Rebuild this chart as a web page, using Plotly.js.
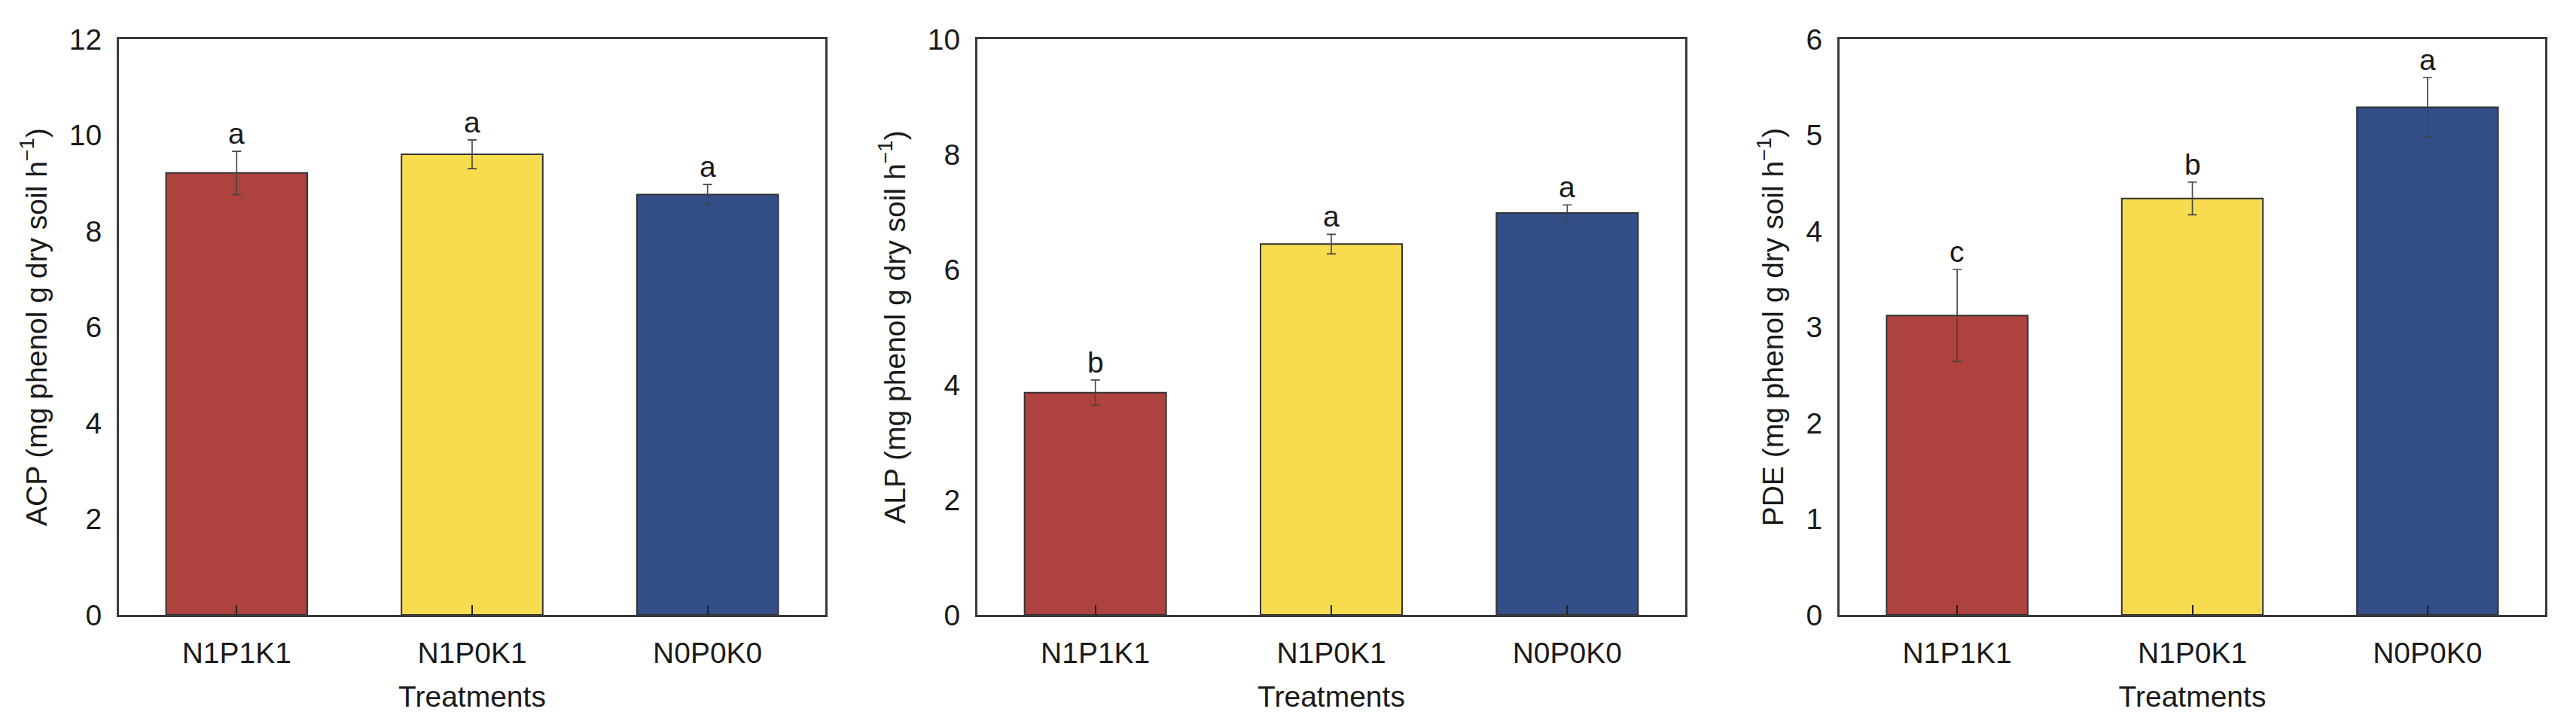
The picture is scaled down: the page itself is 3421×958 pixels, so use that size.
<!DOCTYPE html>
<html>
<head>
<meta charset="utf-8">
<script src="https://cdn.plot.ly/plotly-3.0.1.min.js"></script>
<style>html,body{margin:0;padding:0;background:#fff;}#chart{width:3421px;height:958px;}</style>
</head>
<body>
<div id="chart"></div>
<script>
const categories = ['N1P1K1', 'N1P0K1', 'N0P0K0'];
const barColors = ['#AE423E', '#F7DC50', '#344E87'];

const acpValues = [9.21, 9.60, 8.76];
const acpErrors = [0.45, 0.30, 0.21];
const acpLetters = ['a', 'a', 'a'];

const alpValues = [3.86, 6.44, 6.98];
const alpErrors = [0.22, 0.17, 0.14];
const alpLetters = ['b', 'a', 'a'];

const pdeValues = [3.12, 4.34, 5.29];
const pdeErrors = [0.48, 0.17, 0.31];
const pdeLetters = ['c', 'b', 'a'];

const yTitles = ['ACP (mg phenol g dry soil h<sup>−1</sup>)',
                 'ALP (mg phenol g dry soil h<sup>−1</sup>)',
                 'PDE (mg phenol g dry soil h<sup>−1</sup>)'];
const yRanges = [[0, 12], [0, 10], [0, 6]];
const yDticks = [2, 2, 1];
const xTitle = 'Treatments';

const panels = [
  {v: acpValues, e: acpErrors, l: acpLetters},
  {v: alpValues, e: alpErrors, l: alpLetters},
  {v: pdeValues, e: pdeErrors, l: pdeLetters}
];

const FONT = 'Liberation Sans, Arial, sans-serif';
const TXT = '#1a1a1a';
const FS = 39;
const xDomains = [[158/3421, 1096/3421], [1298/3421, 2238/3421], [2443/3421, 3380/3421]];
const yDomain = [141/958, 906/958];

const data = [];
const annotations = [];
const layout = {
  width: 3421, height: 958,
  margin: {l: 0, r: 0, t: 0, b: 0},
  paper_bgcolor: '#fff', plot_bgcolor: '#fff',
  showlegend: false,
  font: {family: FONT, size: FS, color: TXT},
  annotations: annotations
};

panels.forEach((p, i) => {
  const s = i === 0 ? '' : String(i + 1);
  data.push({
    type: 'bar',
    x: categories, y: p.v,
    xaxis: 'x' + s, yaxis: 'y' + s,
    width: 0.6,
    marker: {color: barColors, line: {color: '#333', width: 2}},
    error_y: {type: 'data', array: p.e, visible: true, color: '#444', thickness: 1.6, width: 6},
    hoverinfo: 'skip'
  });
  categories.forEach((c, j) => {
    annotations.push({
      xref: 'x' + s, yref: 'y' + s,
      x: c, y: p.v[j] + p.e[j],
      text: p.l[j], showarrow: false,
      yanchor: 'bottom', yshift: 0,
      font: {family: FONT, size: FS, color: TXT}
    });
  });
  layout['xaxis' + s] = {
    domain: xDomains[i], anchor: 'y' + s,
    showline: true, mirror: true, linecolor: '#3a3a3a', linewidth: 3,
    showgrid: false, zeroline: false,
    ticks: 'inside', ticklen: 13, tickwidth: 2, tickcolor: '#222',
    ticklabelstandoff: 14,
    tickfont: {family: FONT, size: FS, color: TXT},
    title: {text: xTitle, font: {family: FONT, size: FS, color: TXT}, standoff: 24},
    fixedrange: true
  };
  layout['yaxis' + s] = {
    domain: yDomain, anchor: 'x' + s,
    range: yRanges[i], dtick: yDticks[i], tick0: 0,
    showline: true, mirror: true, linecolor: '#3a3a3a', linewidth: 3,
    showgrid: false, zeroline: false,
    ticks: '', ticklabelstandoff: 12,
    tickfont: {family: FONT, size: FS, color: TXT},
    title: {text: yTitles[i], font: {family: FONT, size: FS, color: TXT}, standoff: 18},
    fixedrange: true
  };
});

Plotly.newPlot('chart', data, layout, {staticPlot: true, displayModeBar: false});
</script>
</body>
</html>
